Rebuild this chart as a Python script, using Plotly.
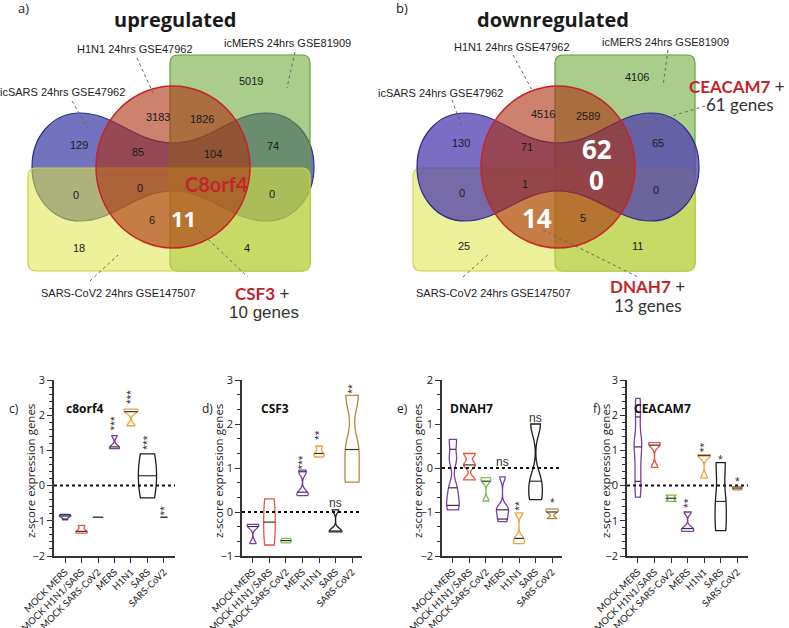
import numpy as np
import plotly.graph_objects as go

W, H = 789, 628

# ---------------- Venn data ----------------
set_labels = ["icSARS 24hrs GSE47962", "H1N1 24hrs GSE47962",
              "icMERS 24hrs GSE81909", "SARS-CoV2 24hrs GSE147507"]
# regions: MERS, H1N1, H1N1&MERS, SARS, SARS&H1N1, SARS&H1N1&MERS, SARS&MERS,
#          SARS&CoV2, SARS&H1N1&CoV2, ALL, SARS&MERS&CoV2, H1N1&CoV2, H1N1&CoV2&MERS, CoV2, CoV2&MERS
up_counts = [5019, 3183, 1826, 129, 85, 104, 74, 0, 0, None, 0, 6, 11, 18, 4]
down_counts = [4106, 4516, 2589, 130, 71, 62, 65, 0, 1, 0, 0, 14, 5, 25, 11]
up_highlight = [12]
down_highlight = [5, 9, 11]
up_gene_label = "C8orf4"
up_callout = ("CSF3", "10 genes")
down_callouts = [("CEACAM7", "61 genes"), ("DNAH7", "13 genes")]

# ---------------- violin data ----------------
groups = ["MOCK MERS", "MOCK H1N1/SARS", "MOCK SARS-CoV2", "MERS", "H1N1", "SARS", "SARS-CoV2"]
group_colors = ["#7a3fa6", "#e4573d", "#7cbd4a", "#7a3fa6", "#f2a23a", "#1e1e1e", "#b08b3a"]

c8orf4 = [[-0.82, -0.85, -0.88, -0.97], [-1.13, -1.30, -1.35], [-0.898, -0.90, -0.902],
          [1.05, 1.10, 1.42], [1.70, 2.10, 2.17], [-0.35, 0.28, 0.90], [-0.898, -0.90, -0.902]]
csf3 = [[-0.28, -0.33, -0.72], [0.30, -0.23, -0.75], [-0.60, -0.65, -0.70],
        [0.37, 0.40, 0.45, 0.88, 0.95], [1.25, 1.33, 1.50], [0.05, -0.43, -0.45], [0.68, 1.42, 2.65]]
dnah7 = [[0.65, 0.20, -0.45, -0.75, -0.95], [0.33, 0.07, -0.27], [-0.22, -0.30, -0.75],
         [-0.20, -0.90, -0.95, -1.10, -1.22], [-1.02, -1.60, -1.72], [1.00, -0.30, -0.72], [-0.93, -1.00, -1.15]]
ceacam7 = [[-0.33, 0.12, 0.60, 1.10, 1.30, 1.95, 2.48], [0.52, 1.15, 1.22], [-0.27, -0.36, -0.45],
           [-0.75, -1.22, -1.30], [0.22, 0.85, 0.88], [0.65, -0.45, -1.28], [-0.03, -0.07, -0.12]]

c8orf4_sig = [(3, 1.75, "***"), (4, 2.51, "***"), (5, 1.23, "***"), (6, -0.71, "**")]
csf3_sig = [(3, 1.11, "***"), (4, 1.75, "**"), (5, 0.20, "ns"), (6, 2.80, "**")]
dnah7_sig = [(3, 0.14, "ns"), (4, -0.86, "**"), (5, 1.14, "ns"), (6, -0.80, "*")]
ceacam7_sig = [(3, -0.51, "**"), (4, 1.09, "**"), (5, 0.74, "*"), (6, 0.11, "*")]

panel_titles = ["c8orf4", "CSF3", "DNAH7", "CEACAM7"]
panel_letters = ["c)", "d)", "e)", "f)"]
y_ranges = [(-2, 3), (-1, 3), (-2, 2), (-2, 3)]

# styles (not data)
widths = [[0.7, 0.7, 0.6, 0.6, 0.85, 1.1, 0.4],
          [0.7, 0.7, 0.64, 0.68, 0.62, 0.76, 0.86],
          [0.76, 0.7, 0.6, 0.74, 0.66, 0.82, 0.74],
          [0.46, 0.7, 0.6, 0.74, 0.76, 0.68, 0.6]]
bws = [[0.04, 0.06, 0.01, 0.07, 0.08, 0.55, 0.01],
       [0.07, 0.35, 0.05, 0.08, 0.06, 0.07, 0.35],
       [0.18, 0.08, 0.07, 0.10, 0.08, 0.25, 0.04],
       [0.30, 0.10, 0.03, 0.08, 0.10, 0.45, 0.02]]

FONT = "Open Sans"
LATO = "Lato"
ARIAL = "Liberation Sans, Arial"

fig = go.Figure()
shapes = []
annotations = []

# ---------- overlay pixel axis ----------
layout_axes = dict(
    xaxis=dict(domain=[0, 1], range=[0, W], visible=False, fixedrange=True, automargin=False),
    yaxis=dict(domain=[0, 1], range=[H, 0], visible=False, fixedrange=True, automargin=False),
)
fig.add_trace(go.Scatter(x=[0], y=[0], xaxis="x", yaxis="y", mode="markers",
                         marker=dict(opacity=0), showlegend=False, hoverinfo="skip"))


def txt(x, y, s, size=11, color="#222", family=ARIAL, bold=False, angle=0, xanchor="center"):
    if bold:
        s = "<b>" + s + "</b>"
    annotations.append(dict(x=x, y=y, xref="x", yref="y", text=s, showarrow=False,
                            font=dict(size=size, color=color, family=family),
                            textangle=angle, xanchor=xanchor, yanchor="middle"))


def dotline(x0, y0, x1, y1):
    shapes.append(dict(type="line", xref="x", yref="y", x0=x0, y0=y0, x1=x1, y1=y1,
                       line=dict(color="#666", width=1, dash="dot")))


def rrect(x0, y0, x1, y1, r):
    return (f"M{x0+r},{y0} L{x1-r},{y0} Q{x1},{y0} {x1},{y0+r} L{x1},{y1-r} "
            f"Q{x1},{y1} {x1-r},{y1} L{x0+r},{y1} Q{x0},{y1} {x0},{y1-r} "
            f"L{x0},{y0+r} Q{x0},{y0} {x0+r},{y0} Z")


def dumbbell(dx):
    c = 173 + dx
    L = 32 + dx
    R = 314 + dx
    return (f"M{L},167 C{L},137 {L+20},113 {L+48},113 "
            f"C{c-58},113 {c-38},143 {c},143 "
            f"C{c+38},143 {c+58},113 {R-48},113 "
            f"C{R-20},113 {R},137 {R},167 "
            f"C{R},197 {R-20},221 {R-48},221 "
            f"C{c+58},221 {c+38},191 {c},191 "
            f"C{c-38},191 {c-58},221 {L+48},221 "
            f"C{L+20},221 {L},197 {L},167 Z")


def venn_shapes(dx, order, dumb_fill):
    d = dict(
        dumb=dict(type="path", xref="x", yref="y", path=dumbbell(dx),
                  fillcolor=dumb_fill, line=dict(color="#2d2d8c", width=1.2)),
        green=dict(type="path", xref="x", yref="y", path=rrect(170 + dx, 55, 310 + dx, 271, 8),
                   fillcolor="rgba(100,164,45,0.55)", line=dict(color="#62a038", width=1.2)),
        yellow=dict(type="path", xref="x", yref="y", path=rrect(28 + dx, 168, 310 + dx, 271, 8),
                    fillcolor="rgba(222,230,70,0.55)", line=dict(color="#cdd045", width=1.2)),
        circle=dict(type="circle", xref="x", yref="y", x0=96 + dx, x1=250 + dx, y0=86, y1=248,
                    fillcolor="rgba(172,47,13,0.6)", line=dict(color="#c8232a", width=1.5)),
    )
    for k in order:
        shapes.append(d[k])


pos_up = [(251, 81), (158, 117), (202, 119), (79, 145), (138, 152), (213, 154), (273, 146),
          (76, 195), (140, 188), (216, 184), (272, 194), (152, 220), (183, 218), (79, 248), (247, 248)]
pos_down = [(637, 77), (543, 114), (588, 116), (461, 143), (527, 147), (597, 149), (658, 143),
            (462, 193), (525, 184), (596, 180), (656, 190), (537, 218), (583, 218), (464, 246), (637, 246)]

# ---- a) upregulated ----
venn_shapes(0, ["dumb", "green", "yellow", "circle"], "rgba(60,60,165,0.72)")
for i, (cnt, (px, py)) in enumerate(zip(up_counts, pos_up)):
    if cnt is None:
        txt(px, py, up_gene_label, size=20, color="#c0262d", family=LATO, bold=True)
    elif i in up_highlight:
        txt(px, py, str(cnt), size=22, color="white", family=FONT, bold=True)
    else:
        txt(px, py, str(cnt), size=11, color="#1a1a1a")
txt(23, 8, "a)", size=13, color="#222", family=FONT)
txt(175, 19, "upregulated", size=20, color="#1a1a1a", family=FONT, bold=True)
txt(62, 92, set_labels[0])
txt(135, 49, set_labels[1])
txt(287, 43, set_labels[2])
txt(118, 293, set_labels[3])
dotline(72, 101, 88, 128)
dotline(137, 58, 153, 93)
dotline(295, 52, 287, 88)
dotline(90, 281, 118, 255)
dotline(195, 227, 248, 277)
txt(262, 293, f"<span style='color:#c0262d'><b>{up_callout[0]}</b></span> +", size=17, color="#333", family=LATO)
txt(264, 312, up_callout[1], size=17, color="#333", family=ARIAL)

# ---- b) downregulated ----
DX = 385
venn_shapes(DX, ["green", "yellow", "dumb", "circle"], "rgba(78,60,175,0.75)")
for i, (cnt, (px, py)) in enumerate(zip(down_counts, pos_down)):
    if i in down_highlight:
        txt(px, py, str(cnt), size=26, color="white", family=FONT, bold=True)
    else:
        txt(px, py, str(cnt), size=11, color="#1a1a1a")
txt(402, 8, "b)", size=13, color="#222", family=FONT)
txt(553, 19, "downregulated", size=20, color="#1a1a1a", family=FONT, bold=True)
txt(440, 93, set_labels[0])
txt(512, 47, set_labels[1])
txt(665, 42, set_labels[2])
txt(493, 293, set_labels[3])
dotline(452, 100, 462, 127)
dotline(513, 55, 532, 90)
dotline(668, 50, 663, 86)
dotline(463, 277, 490, 253)
dotline(705, 106, 603, 137)
dotline(543, 230, 638, 277)
txt(787, 86, f"<span style='color:#c0262d'><b>{down_callouts[0][0]}</b></span> +", size=17, color="#333",
    family=LATO, xanchor="right")
txt(776, 104, down_callouts[0][1], size=17, color="#333", family=LATO, xanchor="right")
txt(647, 286, f"<span style='color:#c0262d'><b>{down_callouts[1][0]}</b></span> +", size=17, color="#333", family=LATO)
txt(648, 305, down_callouts[1][1], size=17, color="#333", family=LATO)

# ---------------- violin panels ----------------
panels = [c8orf4, csf3, dnah7, ceacam7]
sigs = [c8orf4_sig, csf3_sig, dnah7_sig, ceacam7_sig]
x_px = [(54, 175), (242, 362), (442, 562), (627, 748)]
x_ranges = [(-0.67, 6.67), (-0.66, 6.6), (-0.66, 6.6), (-0.66, 6.65)]
ytitle_x = [30, 218, 417, 605]
letter_x = [14, 207, 402, 597]
title_x = [85, 275, 471, 662]
ytop, ybot = 380, 556
minor_dt = [0.2, 1 / 3, 1 / 3, 0.2]


def kde(samples, bw, grid):
    s = np.asarray(samples, dtype=float)[:, None]
    return np.exp(-0.5 * ((grid[None, :] - s) / bw) ** 2).sum(0)


for p, (vals_list, sig) in enumerate(zip(panels, sigs)):
    k = p + 2
    xa, ya = f"x{k}", f"y{k}"
    seg_x, seg_y = [], []
    for i, vals in enumerate(vals_list):
        w = widths[p][i]
        bw = bws[p][i]
        fig.add_trace(go.Violin(
            x=[i] * len(vals), y=vals, xaxis=xa, yaxis=ya, width=w, bandwidth=bw,
            spanmode="hard", points=False, box_visible=False, meanline_visible=False,
            line=dict(color=group_colors[i], width=1.3), fillcolor="rgba(0,0,0,0)",
            scalemode="width", showlegend=False, hoverinfo="skip"))
        v = np.asarray(vals, dtype=float)
        grid = np.linspace(v.min(), v.max(), 400)
        dmax = kde(v, bw, grid).max()
        q1, med, q3 = np.percentile(v, [25, 50, 75], method="weibull")
        span = v.max() - v.min()
        for q, is_med in ((q1, False), (med, True), (q3, False)):
            if not is_med and (abs(q - v.min()) < 0.03 * span + 1e-9 or abs(q - v.max()) < 0.03 * span + 1e-9):
                continue
            hw = w / 2 * kde(v, bw, np.array([q]))[0] / dmax
            seg_x += [i - hw, i + hw, None]
            seg_y += [q, q, None]
    fig.add_trace(go.Scatter(x=seg_x, y=seg_y, xaxis=xa, yaxis=ya, mode="lines",
                             line=dict(color="#333", width=1.2), showlegend=False, hoverinfo="skip"))
    for (gi, yv, s) in sig:
        ang = -88 if (s.startswith("*") and len(s) > 1) else 0
        annotations.append(dict(x=gi, y=yv, xref=xa, yref=ya, text=s, showarrow=False,
                                textangle=ang, font=dict(size=12, color="#333333", family=ARIAL)))
    shapes.append(dict(type="line", xref=f"{xa} domain", yref=ya, x0=0, x1=1, y0=0, y1=0,
                       line=dict(color="#111", width=2, dash="dot")))
    x0p, x1p = x_px[p]
    layout_axes[f"xaxis{k}"] = dict(
        domain=[x0p / W, x1p / W], range=list(x_ranges[p]), anchor=ya, automargin=False,
        tickvals=list(range(len(groups))), ticktext=groups, tickangle=-45,
        showline=True, linecolor="#333", linewidth=1.5, ticks="outside", ticklen=5,
        tickcolor="#333", tickwidth=1.2, showgrid=False, zeroline=False, fixedrange=True,
        tickfont=dict(size=9.5, color="#222", family=LATO))
    layout_axes[f"yaxis{k}"] = dict(
        domain=[1 - ybot / H, 1 - ytop / H], range=list(y_ranges[p]), anchor=xa, automargin=False,
        dtick=1, showline=True, linecolor="#333", linewidth=1.5, ticks="outside", ticklen=5,
        tickcolor="#333", tickwidth=1.2, showgrid=False, zeroline=False, fixedrange=True,
        minor=dict(dtick=minor_dt[p], ticks="outside", ticklen=3, tickcolor="#333", tickwidth=1),
        tickfont=dict(size=11, color="#222", family=FONT))
    txt(ytitle_x[p], 471, "z-score expression genes", size=11.5, color="#1a1a1a", family=FONT, angle=-90)
    txt(letter_x[p], 408, panel_letters[p], size=12, color="#222", family=FONT)
    txt(title_x[p], 408, panel_titles[p], size=12, color="#111", family=FONT, bold=True)

fig.update_layout(
    template="none",
    width=W, height=H, autosize=False,
    margin=dict(l=0, r=0, t=0, b=0, autoexpand=False),
    paper_bgcolor="white", plot_bgcolor="rgba(0,0,0,0)",
    violinmode="overlay", showlegend=False,
    shapes=shapes, annotations=annotations,
    **layout_axes,
)

fig.write_html("out.html", config={"displayModeBar": False},
               post_script="document.body.style.margin='0px';document.body.style.padding='0px';")
